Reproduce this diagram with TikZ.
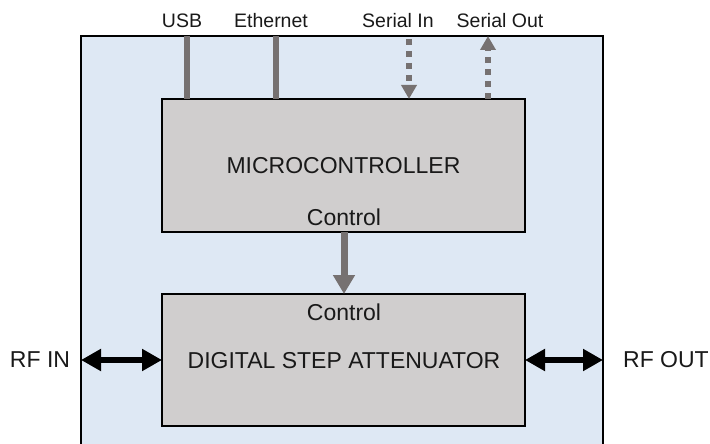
\documentclass[tikz,border=0pt]{standalone}
\usepackage{fontspec}
\setmainfont{Liberation Sans}
\usetikzlibrary{arrows.meta}
\definecolor{outerfill}{HTML}{DEE8F4}
\definecolor{boxfill}{HTML}{D0CECE}
\definecolor{wire}{HTML}{767171}
\begin{document}
\begin{tikzpicture}[x=1pt,y=-1pt,
  bigtext/.style={font=\fontsize{23}{27}\selectfont, text=black!90},
  toplabel/.style={font=\fontsize{19.5}{23}\selectfont, text=black!90, inner sep=0pt},
  block/.style={draw=black, line width=1.6pt, fill=boxfill},
  solidwire/.style={draw=wire, line width=6pt},
  dotwire/.style={draw=wire, line width=6pt, dash pattern=on 6pt off 6pt, -{Triangle[width=15pt,length=14pt]}},
  ctrlarrow/.style={draw=wire, line width=7pt, -{Triangle[width=21pt,length=19pt]}},
  rfarrow/.style={draw=black, line width=6pt, {Triangle[width=21pt,length=20pt]}-{Triangle[width=21pt,length=20pt]}}
]
\useasboundingbox (0,0) rectangle (710,444);
\begin{scope}
\clip (0,0) rectangle (710,444);
\draw[fill=outerfill, draw=black, line width=1.6pt] (81,36) rectangle (603,452);
\end{scope}
\coordinate (outerL) at (81,360);
\coordinate (outerR) at (603,360);
% blocks
\draw[block] (162,99) rectangle (525,232);
\draw[block] (162,294) rectangle (525,426);
\node[bigtext] (mc) at (343.5,166) {MICROCONTROLLER};
\node[bigtext] (ctrlA) at (344,217) {Control};
\node[bigtext] (ctrlB) at (344,312) {Control};
\node[bigtext] (dsa) at (344,361) {DIGITAL STEP ATTENUATOR};
\coordinate (ctrlFrom) at (344,232);
\coordinate (ctrlTo) at (344,294);
\coordinate (dsaL) at (162,360);
\coordinate (dsaR) at (525,360);
% top labels
\node[toplabel] (usb) at (182,21) {USB};
\node[toplabel] (eth) at (271,21) {Ethernet};
\node[toplabel] (sin) at (398,21) {Serial In};
\node[toplabel] (sout) at (500,21) {Serial Out};
% wires
\coordinate (usbT) at (187,36);
\coordinate (usbB) at (187,99);
\coordinate (ethT) at (276,36);
\coordinate (ethB) at (276,99);
\coordinate (sinT) at (409,39);
\coordinate (sinB) at (409,99);
\coordinate (soutT) at (488,36);
\coordinate (soutB) at (488,99);
\draw[solidwire] (usbT) -- (usbB);
\draw[solidwire] (ethT) -- (ethB);
\draw[dotwire] (sinT) -- (sinB);
\draw[dotwire] (soutB) -- (soutT);
\draw[ctrlarrow] (ctrlFrom) -- (ctrlTo);
% RF
\node[bigtext] (rfin) at (40,360) {RF IN};
\node[bigtext] (rfout) at (666,360) {RF OUT};
\draw[rfarrow] (outerL) -- (dsaL);
\draw[rfarrow] (dsaR) -- (outerR);
\end{tikzpicture}
\end{document}
